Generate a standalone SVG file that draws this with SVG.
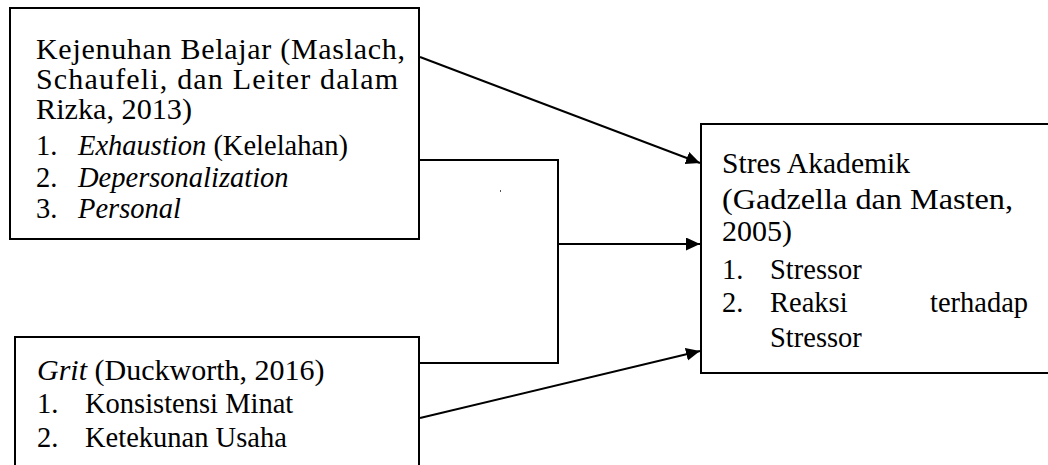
<svg xmlns="http://www.w3.org/2000/svg" width="1048" height="465" viewBox="0 0 1048 465">
<style>
.box{fill:#fff;stroke:#000;stroke-width:2}
.t{font-family:'Liberation Serif',serif}
.h{font-size:30px}
.l{font-size:28.5px}
.g{font-size:30px}
.i{font-style:italic}
.c{fill:none;stroke:#000;stroke-width:2}
</style>
<defs>
<marker id="ah" markerUnits="userSpaceOnUse" markerWidth="16" markerHeight="14" refX="14" refY="6.5" orient="auto">
<path d="M0,0 L14,6.5 L0,13 z" fill="#000"/>
</marker>
</defs>
<g id="node-kejenuhan">
<rect class="box" x="10" y="8" width="409" height="231"/>
<text class="t h" font-family="Liberation Serif" x="36" y="59" textLength="369" lengthAdjust="spacing">Kejenuhan Belajar (Maslach,</text>
<text class="t h" font-family="Liberation Serif" x="36" y="89" textLength="362" lengthAdjust="spacing">Schaufeli, dan Leiter dalam</text>
<text class="t h" font-family="Liberation Serif" x="36" y="119" textLength="156" lengthAdjust="spacingAndGlyphs">Rizka, 2013)</text>
<text class="t l" font-family="Liberation Serif" y="155"><tspan x="36">1.</tspan><tspan x="78" class="i">Exhaustion</tspan><tspan> (Kelelahan)</tspan></text>
<text class="t l" font-family="Liberation Serif" y="187"><tspan x="36">2.</tspan><tspan x="78" class="i">Depersonalization</tspan></text>
<text class="t l" font-family="Liberation Serif" y="218"><tspan x="36">3.</tspan><tspan x="78" class="i">Personal</tspan></text>
</g>
<g id="node-grit">
<rect class="box" x="15" y="337" width="404" height="140"/>
<text class="t h" font-family="Liberation Serif" y="380"><tspan x="37" class="i">Grit</tspan><tspan> (Duckworth, 2016)</tspan></text>
<text class="t l" font-family="Liberation Serif" y="413"><tspan x="37">1.</tspan><tspan x="85">Konsistensi Minat</tspan></text>
<text class="t l" font-family="Liberation Serif" y="447"><tspan x="37">2.</tspan><tspan x="85">Ketekunan Usaha</tspan></text>
</g>
<g id="node-stres">
<rect class="box" x="701" y="124" width="360" height="249"/>
<text class="t l" font-family="Liberation Serif" x="722" y="173" textLength="188" lengthAdjust="spacingAndGlyphs">Stres Akademik</text>
<text class="t g" font-family="Liberation Serif" x="722" y="209" textLength="291" lengthAdjust="spacingAndGlyphs">(Gadzella dan Masten,</text>
<text class="t g" font-family="Liberation Serif" x="722" y="241">2005)</text>
<text class="t l" font-family="Liberation Serif" y="279"><tspan x="722">1.</tspan><tspan x="770">Stressor</tspan></text>
<text class="t l" font-family="Liberation Serif" y="312"><tspan x="722">2.</tspan><tspan x="770">Reaksi</tspan><tspan x="930">terhadap</tspan></text>
<text class="t l" font-family="Liberation Serif" x="770" y="347">Stressor</text>
</g>
<g id="connectors">
<line class="c" x1="420" y1="57" x2="700" y2="163" marker-end="url(#ah)"/>
<polyline class="c" points="420,160 558,160 558,363 420,363"/>
<line class="c" x1="558" y1="244" x2="700" y2="244" marker-end="url(#ah)"/>
<line class="c" x1="420" y1="418" x2="700" y2="351" marker-end="url(#ah)"/>
</g>
<rect x="500" y="190" width="1" height="2" fill="#555"/>
</svg>
